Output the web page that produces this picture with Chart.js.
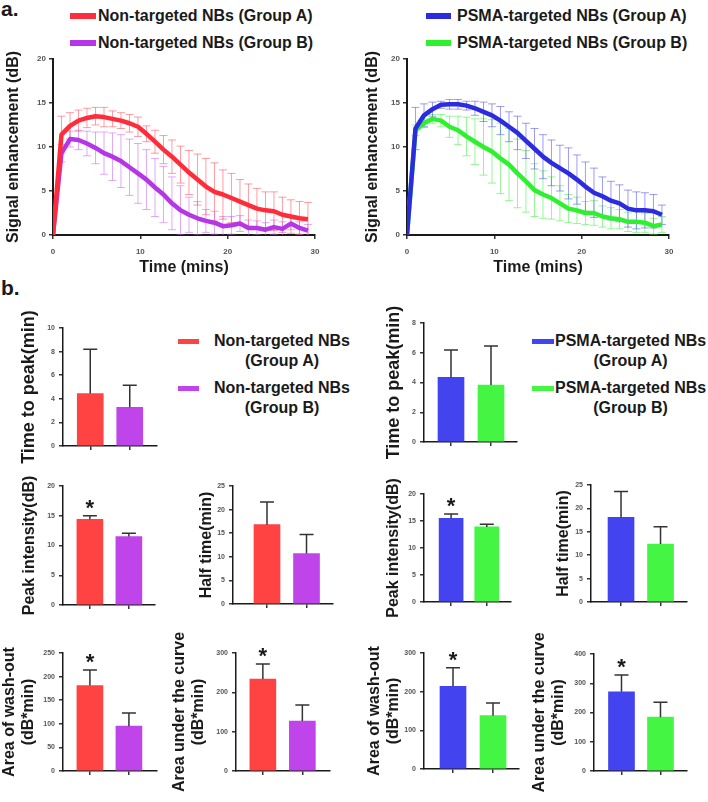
<!DOCTYPE html>
<html>
<head>
<meta charset="utf-8">
<script src="https://cdn.jsdelivr.net/npm/chart.js@4.4.0/dist/chart.umd.min.js"></script>
<style>
  body { margin: 0; background: #fff; }
  #fig { position: relative; width: 708px; height: 802px; overflow: hidden; font-family: 'Liberation Sans', Arial, sans-serif; color: #1a1a1a; }
  #fig canvas { position: absolute; }
  .tag { position: absolute; font-weight: bold; font-size: 21px; }
  .leg { position: absolute; display: flex; align-items: center; font-weight: bold; font-size: 16px; white-space: nowrap; line-height: 18px; }
  .legb { position: absolute; display: flex; align-items: flex-start; font-weight: bold; font-size: 16px; white-space: nowrap; line-height: 20px; }
  .legb span { text-align: center; }
  .leg i, .legb i { display: inline-block; }
</style>
</head>
<body>
<div id="fig">
  <div class="tag" style="left:1px; top:-3px">a.</div>
  <div class="tag" style="left:1px; top:276px">b.</div>

  <div class="leg" style="left:70px; top:7px"><i style="width:26px;height:6px;background:#ff2d3c;margin-right:2px"></i>Non-targeted NBs (Group A)</div>
  <div class="leg" style="left:70px; top:34px"><i style="width:26px;height:6px;background:#b436e6;margin-right:2px"></i>Non-targeted NBs (Group B)</div>
  <div class="leg" style="left:426px; top:7px"><i style="width:25px;height:6px;background:#2b2be0;margin-right:6px"></i>PSMA-targeted NBs (Group A)</div>
  <div class="leg" style="left:426px; top:34px"><i style="width:25px;height:6px;background:#2ff02f;margin-right:6px"></i>PSMA-targeted NBs (Group B)</div>

  <div class="legb" style="left:178px; top:331px"><i style="width:21px;height:5px;background:#ff4242;margin:8px 15px 0 0"></i><span>Non-targeted NBs<br>(Group A)</span></div>
  <div class="legb" style="left:178px; top:378px"><i style="width:21px;height:5px;background:#bf45ea;margin:8px 15px 0 0"></i><span>Non-targeted NBs<br>(Group B)</span></div>
  <div class="legb" style="left:532px; top:331px"><i style="width:22px;height:5px;background:#4343ef;margin:8px 1px 0 0"></i><span>PSMA-targeted NBs<br>(Group A)</span></div>
  <div class="legb" style="left:532px; top:378px"><i style="width:22px;height:5px;background:#44f544;margin:8px 1px 0 0"></i><span>PSMA-targeted NBs<br>(Group B)</span></div>
</div>

<script>
// panel a: time-intensity curves (mean and SD)
const times = [0, 0.97, 1.95, 2.92, 3.89, 4.87, 5.84, 6.81, 7.78, 8.76, 9.73, 10.70, 11.68, 12.65, 13.62, 14.60,
  15.57, 16.54, 17.51, 18.49, 19.46, 20.43, 21.41, 22.38, 23.35, 24.33, 25.30, 26.27, 27.24, 28.22, 29.19];
const redMean = [0, 11.4, 12.4, 13.0, 13.3, 13.5, 13.4, 13.2, 13.0, 12.7, 12.3, 11.5, 10.6, 9.7, 8.9, 8.0,
  7.1, 6.3, 5.5, 4.9, 4.6, 4.2, 3.8, 3.4, 3.0, 2.8, 2.7, 2.3, 2.1, 1.9, 1.8];
const redSd = [0, 2.1, 1.5, 1.2, 1.1, 1.0, 1.1, 0.9, 0.9, 1.0, 1.1, 0.9, 1.3, 1.6, 1.9, 2.1,
  2.5, 2.9, 3.2, 3.3, 2.8, 2.8, 2.5, 2.4, 2.3, 2.1, 2.2, 2.0, 1.9, 1.9, 1.9];
const purpleMean = [0, 9.3, 10.9, 10.8, 10.4, 9.9, 9.3, 8.9, 8.4, 7.7, 7.0, 6.3, 5.4, 4.6, 3.6, 2.8,
  2.3, 1.9, 1.6, 1.4, 1.0, 1.1, 1.3, 0.8, 0.8, 0.6, 0.9, 0.7, 1.3, 0.8, 0.5];
const purpleSd = [0, 1.0, 0.9, 1.1, 1.4, 1.8, 2.4, 2.7, 3.0, 3.2, 3.4, 3.4, 3.3, 3.2, 3.0, 2.8,
  2.0, 1.9, 1.3, 1.3, 1.1, 1.0, 0.9, 0.9, 0.8, 0.8, 0.8, 0.8, 0.7, 0.7, 0.7];
const blueMean = [0, 12.1, 13.6, 14.3, 14.8, 14.85, 14.85, 14.7, 14.4, 14.0, 13.6, 13.0, 12.3, 11.6, 10.7, 9.8,
  8.9, 8.2, 7.6, 7.0, 6.3, 5.5, 4.8, 4.4, 3.9, 3.6, 3.0, 2.8, 2.8, 2.7, 2.3];
const blueSd = [0, 2.4, 1.3, 0.8, 0.4, 0.55, 0.55, 0.5, 0.8, 1.1, 1.3, 1.6, 1.7, 1.9, 2.0, 2.3,
  2.5, 2.6, 2.6, 2.9, 2.8, 2.8, 2.8, 2.2, 2.2, 2.1, 2.1, 2.1, 2.0, 1.9, 1.1];
const greenMean = [0, 11.9, 12.7, 13.2, 13.0, 12.3, 11.9, 11.2, 10.6, 10.0, 9.5, 8.7, 8.0, 7.0, 6.1, 5.1,
  4.6, 4.2, 3.6, 3.0, 2.8, 2.5, 2.5, 2.1, 1.9, 1.8, 1.5, 1.5, 1.4, 1.0, 1.2];
const greenSd = [0, 0.6, 0.5, 0.5, 0.7, 1.2, 1.6, 2.2, 2.6, 3.2, 3.6, 4.0, 4.1, 3.9, 3.5, 3.0,
  2.7, 2.4, 2.0, 1.6, 1.5, 1.3, 1.4, 1.2, 1.2, 1.1, 1.1, 1.2, 1.1, 0.9, 0.9];
const timeTicks = [0, 10, 20, 30];
const signalTicks = [0, 5, 10, 15, 20];

// panel b: parameters per group (mean, SD)
const nonGroups = ['Non-targeted NBs (Group A)', 'Non-targeted NBs (Group B)'];
const psmaGroups = ['PSMA-targeted NBs (Group A)', 'PSMA-targeted NBs (Group B)'];
const ttpNon = [4.45, 3.28], ttpNonSd = [3.75, 1.86];
const peakNon = [14.4, 11.5], peakNonSd = [0.6, 0.55];
const halfNon = [16.8, 10.7], halfNonSd = [4.8, 4.0];
const washNon = [181, 95], washNonSd = [33, 28];
const aucNon = [234, 127], aucNonSd = [38, 41];
const ttpPsma = [4.35, 3.83], ttpPsmaSd = [1.83, 2.62];
const peakPsma = [15.5, 13.9], peakPsmaSd = [0.8, 0.5];
const halfPsma = [18.1, 12.4], halfPsmaSd = [5.5, 3.7];
const washPsma = [214, 138], washPsmaSd = [48, 33];
const aucPsma = [271, 184], aucPsmaSd = [57, 51];
const starFlags = [true, false];

Chart.defaults.font.family = "'Liberation Sans', Arial, sans-serif";
const fig = document.getElementById('fig');

function addCanvas(left, top, w, h) {
  const c = document.createElement('canvas');
  c.width = w; c.height = h;
  c.style.left = left + 'px'; c.style.top = top + 'px';
  c.style.width = w + 'px'; c.style.height = h + 'px';
  fig.appendChild(c);
  return c.getContext('2d');
}

const lineErrorBars = {
  id: 'lineErrorBars',
  beforeDatasetsDraw(chart) {
    const { ctx, chartArea: a, scales: { x, y } } = chart;
    ctx.save();
    ctx.beginPath();
    ctx.rect(a.left, a.top - 3, a.right - a.left + 6, a.bottom - a.top + 3);
    ctx.clip();
    chart.data.datasets.slice().reverse().forEach(ds => {
      ctx.strokeStyle = ds.errColor;
      ctx.lineWidth = 1;
      ds.data.forEach((p, i) => {
        const sd = ds.sd[i];
        if (!sd) return;
        const px = x.getPixelForValue(p.x);
        const hi = y.getPixelForValue(p.y + sd);
        const lo = y.getPixelForValue(p.y - sd);
        ctx.beginPath();
        ctx.moveTo(px, hi); ctx.lineTo(px, lo);
        ctx.moveTo(px - 4, hi); ctx.lineTo(px + 4, hi);
        ctx.moveTo(px - 4, lo); ctx.lineTo(px + 4, lo);
        ctx.stroke();
      });
    });
    ctx.restore();
  }
};

const barErrorBars = {
  id: 'barErrorBars',
  afterDatasetsDraw(chart) {
    const { ctx, scales: { y } } = chart;
    const ds = chart.data.datasets[0];
    const meta = chart.getDatasetMeta(0);
    ctx.save();
    meta.data.forEach((bar, i) => {
      const top = y.getPixelForValue(ds.data[i].y + ds.sd[i]);
      ctx.strokeStyle = '#333';
      ctx.lineWidth = 1.5;
      ctx.beginPath();
      ctx.moveTo(bar.x, bar.y); ctx.lineTo(bar.x, top);
      ctx.moveTo(bar.x - 7, top); ctx.lineTo(bar.x + 7, top);
      ctx.stroke();
      if (ds.star && ds.star[i]) {
        ctx.fillStyle = '#1a1a1a';
        ctx.font = "bold 22px 'Liberation Sans', Arial";
        ctx.textAlign = 'center';
        ctx.textBaseline = 'alphabetic';
        ctx.fillText('*', bar.x, top - 1);
      }
    });
    ctx.restore();
  }
};

const axisGrid = { drawOnChartArea: false, tickLength: 4, color: '#333', lineWidth: 1.5, offset: false };
const axisBorder = { color: '#1a1a1a', width: 2 };

function lineChart(left, series, titlePad) {
  const ctx = addCanvas(left, 40, 330, 240);
  return new Chart(ctx, {
    type: 'line',
    data: {
      datasets: series.map(s => ({
        label: s.label,
        data: times.map((t, i) => ({ x: t, y: s.mean[i] })),
        sd: s.sd,
        errColor: s.errColor,
        borderColor: s.color,
        borderWidth: 4.5,
        pointRadius: 0,
        tension: 0,
        fill: false,
        borderJoinStyle: 'round'
      }))
    },
    options: {
      responsive: false,
      animation: false,
      layout: { padding: { top: 19, right: 15, left: 0, bottom: 0 } },
      plugins: { legend: { display: false }, tooltip: { enabled: false } },
      scales: {
        x: {
          type: 'linear', min: 0, max: 30,
          afterBuildTicks: s => { s.ticks = timeTicks.map(v => ({ value: v })); },
          afterFit: s => { s.height = 45; },
          ticks: { font: { size: 8, weight: 'bold' }, color: '#555', padding: 8, maxRotation: 0 },
          grid: axisGrid, border: axisBorder,
          title: { display: true, text: 'Time (mins)', color: '#1a1a1a', font: { size: 16, weight: 'bold' }, padding: { top: 0, bottom: 3 } }
        },
        y: {
          min: 0, max: 20,
          afterBuildTicks: s => { s.ticks = signalTicks.map(v => ({ value: v })); },
          afterFit: s => { s.width = 53; },
          ticks: { font: { size: 8, weight: 'bold' }, color: '#555', padding: 3 },
          grid: axisGrid, border: axisBorder,
          title: { display: true, text: 'Signal enhancement (dB)', color: '#1a1a1a', font: { size: 16, weight: 'bold' }, padding: { top: titlePad, bottom: 0 } }
        }
      }
    },
    plugins: [lineErrorBars]
  });
}

lineChart(0, [
  { label: nonGroups[0], mean: redMean, sd: redSd, color: '#ff2d3c', errColor: 'rgba(255,90,100,0.6)' },
  { label: nonGroups[1], mean: purpleMean, sd: purpleSd, color: '#b436e6', errColor: 'rgba(205,110,245,0.6)' }
], 4);
lineChart(354, [
  { label: psmaGroups[0], mean: blueMean, sd: blueSd, color: '#2b2be0', errColor: 'rgba(90,90,240,0.6)' },
  { label: psmaGroups[1], mean: greenMean, sd: greenSd, color: '#2ff02f', errColor: 'rgba(80,240,80,0.6)' }
], 9);

function barChart(p) {
  const padTop = 26, xh = 26, padR = 8;
  const ctx = addCanvas(p.axisX - p.yw, p.top - padTop, p.axisR - p.axisX + p.yw + padR, p.bot - p.top + padTop + xh);
  return new Chart(ctx, {
    type: 'bar',
    data: {
      datasets: [{
        label: p.title,
        data: p.values.map((v, i) => ({ x: i, y: v, group: p.groups[i] })),
        sd: p.sd,
        star: p.star,
        backgroundColor: p.colors,
        borderWidth: 0,
        barThickness: p.barW || 26
      }]
    },
    options: {
      responsive: false,
      animation: false,
      layout: { padding: { top: padTop, right: padR, left: 0, bottom: 0 } },
      plugins: { legend: { display: false }, tooltip: { enabled: false } },
      scales: {
        x: {
          type: 'linear', offset: false, min: p.xr[0], max: p.xr[1],
          afterBuildTicks: s => { s.ticks = p.values.map((v, i) => ({ value: i })); },
          afterFit: s => { s.height = xh; },
          ticks: { display: false },
          grid: axisGrid, border: { color: '#1a1a1a', width: 1.5 }
        },
        y: {
          min: 0, max: p.max,
          ticks: { stepSize: p.step, font: { size: 7, weight: 'bold' }, color: '#555', padding: 4 },
          afterFit: s => { s.width = p.yw; },
          grid: axisGrid, border: { color: '#1a1a1a', width: 1.5 },
          title: { display: true, text: p.title, color: '#1a1a1a', font: { size: p.fs, weight: 'bold' }, padding: { top: p.pt, bottom: 0 } }
        }
      }
    },
    plugins: [barErrorBars]
  });
}

const nonColors = ['#ff4242', '#bf45ea'];
const psmaColors = ['#4343ef', '#44f544'];
const xrStd = [-0.69, 1.69];

barChart({ groups: nonGroups, values: ttpNon, sd: ttpNonSd, colors: nonColors, max: 10, step: 2, title: 'Time to peak(min)', fs: 18, pt: 18,
  axisX: 63, axisR: 157, top: 328, bot: 446, yw: 63, xr: xrStd });
barChart({ groups: nonGroups, values: peakNon, sd: peakNonSd, colors: nonColors, max: 20, step: 5, title: 'Peak intensity(dB)', fs: 16, pt: 20, star: starFlags,
  axisX: 63, axisR: 155, top: 486, bot: 605, yw: 63, xr: [-0.69, 1.67] });
barChart({ groups: nonGroups, values: halfNon, sd: halfNonSd, colors: nonColors, max: 25, step: 5, title: 'Half time(min)', fs: 16, pt: 4,
  axisX: 233, axisR: 333, top: 486, bot: 604, yw: 40, xr: [-0.86, 1.67] });
barChart({ groups: nonGroups, values: washNon, sd: washNonSd, colors: nonColors, max: 250, step: 50, title: ['Area of wash-out', '(dB*min)'], fs: 16, pt: 0, star: starFlags,
  axisX: 63, axisR: 157, top: 653, bot: 771, yw: 63, xr: [-0.69, 1.72] });
barChart({ groups: nonGroups, values: aucNon, sd: aucNonSd, colors: nonColors, max: 300, step: 100, title: ['Area under the curve', '(dB*min)'], fs: 16, pt: 0, star: starFlags,
  axisX: 236, axisR: 330, top: 653, bot: 771, yw: 66, xr: [-0.68, 1.70] });

barChart({ groups: psmaGroups, values: ttpPsma, sd: ttpPsmaSd, colors: psmaColors, max: 8, step: 2, title: 'Time to peak(min)', fs: 18, pt: 0,
  axisX: 424, axisR: 517, top: 323, bot: 442, yw: 41, xr: [-0.675, 1.65] });
barChart({ groups: psmaGroups, values: peakPsma, sd: peakPsmaSd, colors: psmaColors, max: 20, step: 5, title: 'Peak intensity(dB)', fs: 16, pt: 0, star: starFlags,
  axisX: 424, axisR: 511, top: 494, bot: 602, yw: 40, xr: [-0.76, 1.68], barW: 24 });
barChart({ groups: psmaGroups, values: halfPsma, sd: halfPsmaSd, colors: psmaColors, max: 25, step: 5, title: 'Half time(min)', fs: 16, pt: 0,
  axisX: 591, axisR: 687, top: 485, bot: 602, yw: 37, xr: [-0.76, 1.67] });
barChart({ groups: psmaGroups, values: washPsma, sd: washPsmaSd, colors: psmaColors, max: 300, step: 100, title: ['Area of wash-out', '(dB*min)'], fs: 16, pt: 1, star: starFlags,
  axisX: 424, axisR: 519, top: 653, bot: 769, yw: 60, xr: [-0.725, 1.65] });
barChart({ groups: psmaGroups, values: aucPsma, sd: aucPsmaSd, colors: psmaColors, max: 400, step: 100, title: ['Area under the curve', '(dB*min)'], fs: 16, pt: 2, star: starFlags,
  axisX: 594, axisR: 687, top: 654, bot: 771, yw: 66, xr: [-0.705, 1.68] });
</script>
</body>
</html>
